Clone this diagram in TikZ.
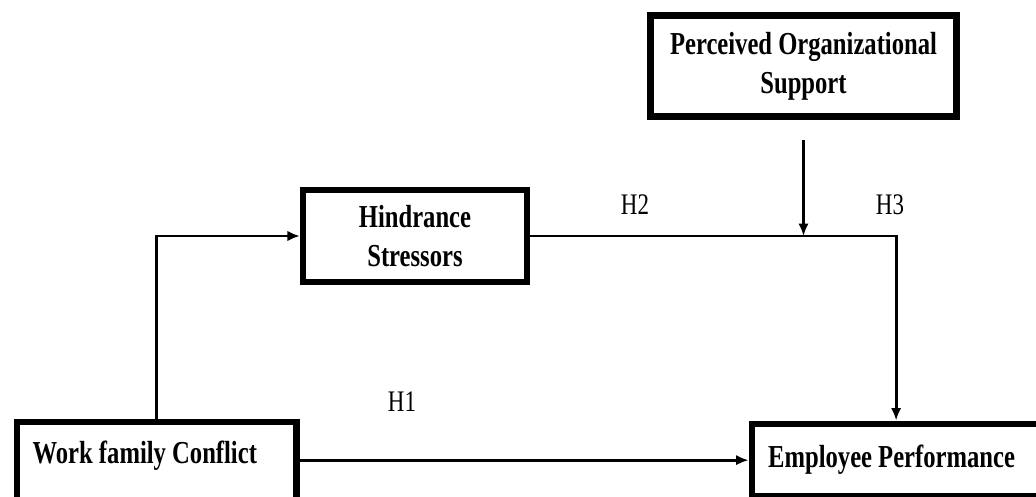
\documentclass[tikz,border=0pt]{standalone}
\usepackage{fontspec}
\setmainfont{Liberation Serif}[FakeStretch=0.77]
\usetikzlibrary{shapes,arrows.meta,positioning,calc}
\tikzset{
    % Construct style - thick black frame
    construct/.style={
        rectangle,
        draw=black,
        fill=white,
        line width=3.6pt,
        inner sep=0pt,
        font=\fontsize{18.2}{22}\selectfont\bfseries
    },
    % Hypothesis label style
    hyp/.style={
        font=\fontsize{17}{20}\selectfont
    },
    % Arrow style
    arrow/.style={
        -{Latex[length=0.25cm, width=0.21cm]},
        line width=1.6pt,
        draw=black
    }
}

\begin{document}
\begin{tikzpicture}[x=0.02cm, y=-0.02cm]

    % ========== FRAME ==========
    \useasboundingbox (0,0) rectangle (1036,497);
    \clip (0,0) rectangle (1036,497);

    % ========== CONSTRUCTS ==========
    \node[construct, anchor=north west, text width=4.96cm, align=flush left, inner xsep=0.32cm, text height=0.83cm, text depth=2cm] (wfc) at (13.5,418.5) {Work family Conflict};
    \node[construct, anchor=north west, text width=5.56cm, align=flush left, inner xsep=0.33cm, minimum height=1.46cm] (ep) at (748.5,420.5) {Employee Performance};
    \node[construct, minimum width=4.48cm, minimum height=1.84cm, align=center] (hs) at (415,236) {Hindrance\\Stressors};
    \node[construct, minimum width=6.12cm, minimum height=2.02cm, align=center] (pos) at (803.5,66) {Perceived Organizational\\Support};

    % ========== HYPOTHESES ==========
    \node[hyp] (h1) at (402,402) {H1};
    \node[hyp] (h2) at (635,205) {H2};
    \node[hyp] (h3) at (890,205) {H3};

    % ========== CONNECTIONS ==========
    \coordinate (h3turn) at ($(ep.north)+(-11,0)$);

    \draw[arrow] (wfc.north) |- (hs.west);
    \draw[arrow] (ep.west -| wfc.east) -- (ep.west);
    \draw[arrow] (hs.east) -| (h3turn);

    % Moderation
    \draw[arrow, shorten <=0.4cm] (pos.south) -- (pos.south |- hs.east);

\end{tikzpicture}
\end{document}
